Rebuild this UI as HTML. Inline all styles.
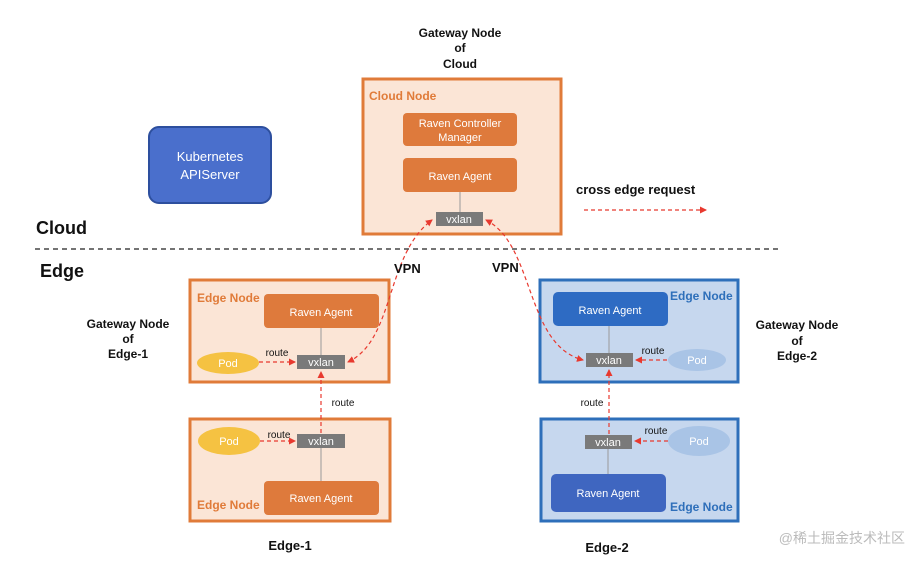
<!DOCTYPE html>
<html><head><meta charset="utf-8"><style>
body{margin:0;background:#fff}
svg{display:block;font-family:"Liberation Sans","Noto Sans CJK SC",sans-serif}
</style></head><body>
<svg width="924" height="566" viewBox="0 0 924 566" xmlns="http://www.w3.org/2000/svg">
<defs>
<marker id="a" markerWidth="8" markerHeight="8" refX="6" refY="4" orient="auto-start-reverse" markerUnits="userSpaceOnUse"><path d="M0,0.5 L7,4 L0,7.5z" fill="#e8392f"/></marker>
</defs>
<g font-weight="bold" font-size="12" fill="#111" text-anchor="middle">
<text x="460" y="37">Gateway Node</text><text x="460" y="52">of</text><text x="460" y="68">Cloud</text>
<text x="128" y="328">Gateway Node</text><text x="128" y="343">of</text><text x="128" y="358">Edge-1</text>
<text x="797" y="329">Gateway Node</text><text x="797" y="345">of</text><text x="797" y="360">Edge-2</text>
<text x="290" y="550" font-size="13">Edge-1</text>
<text x="607" y="552" font-size="13">Edge-2</text>
</g>
<text x="36" y="234" font-size="18" font-weight="bold" fill="#111">Cloud</text>
<text x="40" y="277" font-size="18" font-weight="bold" fill="#111">Edge</text>
<line x1="35" y1="249" x2="780" y2="249" stroke="#222" stroke-width="1.2" stroke-dasharray="5,4"/>
<text x="576" y="194" font-size="13" font-weight="bold" fill="#111">cross edge request</text>
<line x1="584" y1="210" x2="706" y2="210" stroke="#e8392f" stroke-width="1.2" stroke-dasharray="4,3" marker-end="url(#a)"/>
<rect x="149" y="127" width="122" height="76" rx="10" fill="#4a6fcc" stroke="#2d4f9e" stroke-width="2"/>
<text x="210" y="161" font-size="13" fill="#fff" text-anchor="middle">Kubernetes</text>
<text x="210" y="179" font-size="13" fill="#fff" text-anchor="middle">APIServer</text>
<rect x="363" y="79" width="198" height="155" fill="#fbe5d6" stroke="#e07b39" stroke-width="3"/>
<text x="369" y="100" font-size="12" font-weight="bold" fill="#e07b39">Cloud Node</text>
<rect x="403" y="113" width="114" height="33" rx="4" fill="#de7a3c"/>
<text x="460" y="127" font-size="11" fill="#fff" text-anchor="middle">Raven Controller</text>
<text x="460" y="141" font-size="11" fill="#fff" text-anchor="middle">Manager</text>
<rect x="403" y="158" width="114" height="34" rx="4" fill="#de7a3c"/>
<text x="460" y="180" font-size="11" fill="#fff" text-anchor="middle">Raven Agent</text>
<line x1="460" y1="192" x2="460" y2="212" stroke="#999"/>
<rect x="436" y="212" width="47" height="14" fill="#7a7a7a"/>
<text x="459" y="223" font-size="11" fill="#fff" text-anchor="middle">vxlan</text>
<rect x="190" y="280" width="199" height="102" fill="#fbe5d6" stroke="#e07b39" stroke-width="3"/>
<text x="197" y="302" font-size="12" font-weight="bold" fill="#e07b39">Edge Node</text>
<rect x="264" y="294" width="115" height="34" rx="4" fill="#de7a3c"/>
<text x="321" y="316" font-size="11" fill="#fff" text-anchor="middle">Raven Agent</text>
<line x1="321" y1="328" x2="321" y2="355" stroke="#999"/>
<rect x="297" y="355" width="48" height="14" fill="#7a7a7a"/>
<text x="321" y="366" font-size="11" fill="#fff" text-anchor="middle">vxlan</text>
<ellipse cx="228" cy="363" rx="31" ry="11" fill="#f5c242"/>
<text x="228" y="367" font-size="11" fill="#fff" text-anchor="middle">Pod</text>
<text x="277" y="356" font-size="10" fill="#111" text-anchor="middle">route</text>
<line x1="259" y1="362" x2="295" y2="362" stroke="#e8392f" stroke-width="1.2" stroke-dasharray="4,3" marker-end="url(#a)"/>
<rect x="190" y="419" width="200" height="102" fill="#fbe5d6" stroke="#e07b39" stroke-width="3"/>
<ellipse cx="229" cy="441" rx="31" ry="14" fill="#f5c242"/>
<text x="229" y="445" font-size="11" fill="#fff" text-anchor="middle">Pod</text>
<text x="279" y="438" font-size="10" fill="#111" text-anchor="middle">route</text>
<line x1="260" y1="441" x2="295" y2="441" stroke="#e8392f" stroke-width="1.2" stroke-dasharray="4,3" marker-end="url(#a)"/>
<rect x="297" y="434" width="48" height="14" fill="#7a7a7a"/>
<text x="321" y="445" font-size="11" fill="#fff" text-anchor="middle">vxlan</text>
<line x1="321" y1="448" x2="321" y2="481" stroke="#999"/>
<rect x="264" y="481" width="115" height="34" rx="4" fill="#de7a3c"/>
<text x="321" y="502" font-size="11" fill="#fff" text-anchor="middle">Raven Agent</text>
<text x="197" y="509" font-size="12" font-weight="bold" fill="#e07b39">Edge Node</text>
<line x1="321" y1="433" x2="321" y2="372" stroke="#e8392f" stroke-width="1.2" stroke-dasharray="4,3" marker-end="url(#a)"/>
<text x="343" y="406" font-size="10" fill="#111" text-anchor="middle">route</text>
<rect x="540" y="280" width="198" height="102" fill="#c6d7ee" stroke="#2e6fba" stroke-width="3"/>
<text x="670" y="300" font-size="12" font-weight="bold" fill="#2e6fba">Edge Node</text>
<rect x="553" y="292" width="115" height="34" rx="5" fill="#2e6bc3"/>
<text x="610" y="314" font-size="11" fill="#fff" text-anchor="middle">Raven Agent</text>
<line x1="609" y1="326" x2="609" y2="353" stroke="#999"/>
<rect x="586" y="353" width="47" height="14" fill="#7a7a7a"/>
<text x="609" y="364" font-size="11" fill="#fff" text-anchor="middle">vxlan</text>
<ellipse cx="697" cy="360" rx="29" ry="11" fill="#a9c4e6"/>
<text x="697" y="364" font-size="11" fill="#fff" text-anchor="middle">Pod</text>
<text x="653" y="354" font-size="10" fill="#111" text-anchor="middle">route</text>
<line x1="667" y1="360" x2="636" y2="360" stroke="#e8392f" stroke-width="1.2" stroke-dasharray="4,3" marker-end="url(#a)"/>
<rect x="541" y="419" width="197" height="102" fill="#c6d7ee" stroke="#2e6fba" stroke-width="3"/>
<rect x="585" y="435" width="47" height="14" fill="#7a7a7a"/>
<text x="608" y="446" font-size="11" fill="#fff" text-anchor="middle">vxlan</text>
<ellipse cx="699" cy="441" rx="31" ry="15" fill="#a9c4e6"/>
<text x="699" y="445" font-size="11" fill="#fff" text-anchor="middle">Pod</text>
<text x="656" y="434" font-size="10" fill="#111" text-anchor="middle">route</text>
<line x1="668" y1="441" x2="635" y2="441" stroke="#e8392f" stroke-width="1.2" stroke-dasharray="4,3" marker-end="url(#a)"/>
<line x1="608" y1="449" x2="608" y2="474" stroke="#999"/>
<rect x="551" y="474" width="115" height="38" rx="5" fill="#3f66c0"/>
<text x="608" y="497" font-size="11" fill="#fff" text-anchor="middle">Raven Agent</text>
<text x="670" y="511" font-size="12" font-weight="bold" fill="#2e6fba">Edge Node</text>
<line x1="609" y1="434" x2="609" y2="370" stroke="#e8392f" stroke-width="1.2" stroke-dasharray="4,3" marker-end="url(#a)"/>
<text x="592" y="406" font-size="10" fill="#111" text-anchor="middle">route</text>
<path d="M348,362 C395,340 385,255 432,220" fill="none" stroke="#e8392f" stroke-width="1.2" stroke-dasharray="4,3" marker-start="url(#a)" marker-end="url(#a)"/>
<path d="M486,220 C535,245 525,345 583,360" fill="none" stroke="#e8392f" stroke-width="1.2" stroke-dasharray="4,3" marker-start="url(#a)" marker-end="url(#a)"/>
<text x="394" y="273" font-size="13" font-weight="bold" fill="#111">VPN</text>
<text x="492" y="272" font-size="13" font-weight="bold" fill="#111">VPN</text>
<text x="905" y="543" font-size="14" fill="#bbb" text-anchor="end">@稀土掘金技术社区</text>
</svg>
</body></html>
